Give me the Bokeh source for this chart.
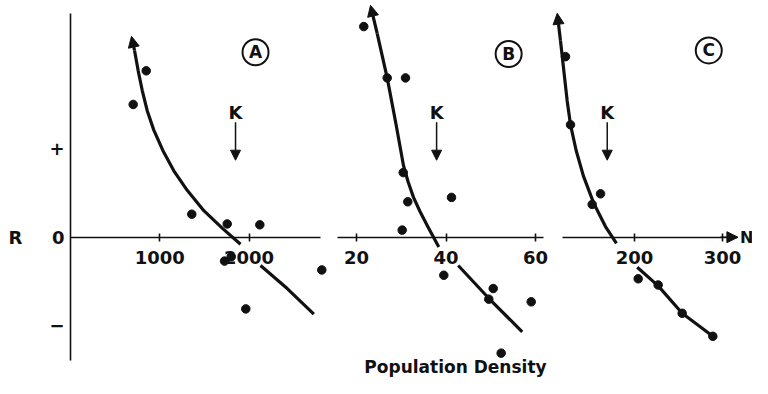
from bokeh.plotting import figure
from bokeh.models import Range1d, LinearAxis, FixedTicker, Arrow, NormalHead, Label
from bokeh.core.properties import value
from bokeh.embed import file_html
from bokeh.resources import INLINE

# ---------------- data ----------------
# Panel A
a_n = [702, 848, 1358, 1755, 2120, 1725, 1800, 1963, 2814]
a_r = [1.50, 1.88, 0.26, 0.15, 0.14, -0.27, -0.22, -0.81, -0.37]
a_fit_upper_n = [683, 717, 758, 803, 859, 933, 1034, 1157, 1307, 1493, 1702, 1904]
a_fit_upper_r = [2.27, 2.11, 1.88, 1.66, 1.43, 1.21, 0.98, 0.75, 0.53, 0.30, 0.10, -0.08]
a_fit_lower_n = [2128, 2427, 2725]
a_fit_lower_r = [-0.32, -0.58, -0.87]
a_ticks = [1000, 2000]
a_k = 1848

# Panel B
b_n = [21.63, 26.86, 30.95, 30.44, 31.46, 41.23, 30.21, 39.51, 50.55, 49.56, 59.04, 52.33]
b_r = [2.38, 1.80, 1.80, 0.73, 0.40, 0.45, 0.08, -0.43, -0.58, -0.70, -0.73, -1.31]
b_fit_upper_n = [23.13, 24.63, 26.86, 28.78, 30.50, 31.51, 32.74, 34.19, 35.98, 38.39]
b_fit_upper_r = [2.62, 2.30, 1.80, 1.29, 0.81, 0.63, 0.45, 0.29, 0.115, -0.11]
b_fit_lower_n = [42.73, 49.56, 57.03]
b_fit_lower_r = [-0.32, -0.69, -1.07]
b_ticks = [20, 40, 60]
b_k = 37.9

# Panel C
c_n = [121.6, 127.3, 161.4, 151.9, 204.2, 226.9, 254.2, 289.0]
c_r = [2.04, 1.27, 0.49, 0.37, -0.47, -0.54, -0.86, -1.12]
c_fit_upper_n = [112.2, 115.9, 119.7, 123.5, 127.3, 133.7, 142.0, 153.4, 167.0, 179.5]
c_fit_upper_r = [2.53, 2.22, 1.88, 1.54, 1.27, 0.98, 0.69, 0.39, 0.12, -0.07]
c_fit_lower_n = [203.1, 226.9, 254.2, 289.0]
c_fit_lower_r = [-0.34, -0.55, -0.86, -1.12]
c_ticks = [200, 300]
c_k = 169

r_ticks = [-1, 0, 1]
r_tick_labels = {1: "+", 0: "0", -1: "\u2212"}
panel_letters = ["A", "B", "C"]

# ---------------- layout ----------------
FIG_W, FIG_H = 752, 378
ZERO_Y, R_PX = 236.7, 88.5          # px (from top) of R=0 and px per R unit
PANELS = {
    "A": dict(origin=70.0, px=0.0893, bounds=(0, 2800), letter_pos=(2072, 2.09)),
    "B": dict(origin=266.5, px=4.475, bounds=(15.75, 61.8), letter_pos=(54.0, 2.07)),
    "C": dict(origin=458.0, px=0.88, bounds=(117.8, 317.5), letter_pos=(284.4, 2.11)),
}
K_LABEL_R, K_ARROW_TOP, K_ARROW_BOTTOM = 1.41, 1.30, 0.87
FONT = "DejaVu Sans"
INK = "#111111"


def x_range_for(origin, px):
    return Range1d(start=-origin / px, end=(FIG_W - origin) / px)


y_range = Range1d(start=-(FIG_H - ZERO_Y) / R_PX, end=ZERO_Y / R_PX)

p = figure(width=FIG_W, height=FIG_H, output_backend="svg", toolbar_location=None,
           x_range=x_range_for(PANELS["A"]["origin"], PANELS["A"]["px"]), y_range=y_range,
           x_axis_type=None, y_axis_type=None, min_border=0)
p.outline_line_color = None
p.background_fill_color = "white"
p.border_fill_color = "white"
p.extra_x_ranges = {k: x_range_for(v["origin"], v["px"]) for k, v in PANELS.items()}

# y axis (R)
yax = LinearAxis(fixed_location=0, bounds=(-1.393, 2.528), ticker=FixedTicker(ticks=r_ticks),
                 major_label_overrides=r_tick_labels, major_tick_in=0, major_tick_out=0,
                 minor_tick_in=0, minor_tick_out=0, axis_line_width=1.6, axis_line_color=INK,
                 major_label_standoff=6, major_label_text_font=FONT,
                 major_label_text_font_style="bold", major_label_text_font_size="18px",
                 major_label_text_color=INK)
p.add_layout(yax, "left")

data = {
    "A": (a_n, a_r, a_fit_upper_n, a_fit_upper_r, a_fit_lower_n, a_fit_lower_r, a_ticks, a_k),
    "B": (b_n, b_r, b_fit_upper_n, b_fit_upper_r, b_fit_lower_n, b_fit_lower_r, b_ticks, b_k),
    "C": (c_n, c_r, c_fit_upper_n, c_fit_upper_r, c_fit_lower_n, c_fit_lower_r, c_ticks, c_k),
}

for name in panel_letters:
    n, r, un, ur, ln, lr, ticks, k = data[name]
    cfg = PANELS[name]
    ax = LinearAxis(x_range_name=name, fixed_location=0, bounds=cfg["bounds"],
                    ticker=FixedTicker(ticks=ticks), major_tick_in=4, major_tick_out=4,
                    minor_tick_in=0, minor_tick_out=0, axis_line_width=1.6, axis_line_color=INK,
                    major_tick_line_width=1.6, major_tick_line_color=INK,
                    major_label_standoff=10, major_label_text_font=FONT,
                    major_label_text_font_style="bold", major_label_text_font_size="18px",
                    major_label_text_color=INK)
    p.add_layout(ax, "below")

    # fitted curve (upper part ends with an arrow, lower part separate)
    p.line(un[1:], ur[1:], x_range_name=name, line_width=3.2, line_color=INK,
           line_join="round")
    p.add_layout(Arrow(x_start=un[1], y_start=ur[1], x_end=un[0], y_end=ur[0],
                       x_range_name=name, line_width=3.2, line_color=INK,
                       end=NormalHead(size=11, fill_color=INK, line_color=INK, line_width=1)))
    p.line(ln, lr, x_range_name=name, line_width=3.2, line_color=INK, line_join="round")

    # observations
    p.scatter(n, r, x_range_name=name, size=8.5, color=INK)

    # K marker
    p.text([k], [K_LABEL_R], text=["K"], x_range_name=name, text_font=value(FONT),
           text_font_style="bold", text_font_size="18px", text_align="center",
           text_baseline="middle", text_color=INK)
    p.add_layout(Arrow(x_start=k, y_start=K_ARROW_TOP, x_end=k, y_end=K_ARROW_BOTTOM,
                       x_range_name=name, line_width=1.5, line_color=INK,
                       end=NormalHead(size=10, fill_color=INK, line_color=INK, line_width=1)))

    # circled panel letter
    lx, ly = cfg["letter_pos"]
    p.scatter([lx], [ly], x_range_name=name, marker="circle", size=26, fill_color=None,
              line_color=INK, line_width=2)
    p.text([lx], [ly], text=[name], x_range_name=name, text_font=value(FONT),
           text_font_style="bold", text_font_size="17px", text_align="center",
           text_baseline="middle", text_color=INK)

# arrow at the end of the N axis
c_end = PANELS["C"]["bounds"][1]
p.add_layout(Arrow(x_start=c_end - 20, y_start=0, x_end=c_end, y_end=0, x_range_name="C",
                   line_width=1.6, line_color=INK,
                   end=NormalHead(size=11, fill_color=INK, line_color=INK, line_width=1)))

lbl = dict(text_font=FONT, text_font_style="bold", text_color=INK, text_baseline="middle")
p.add_layout(Label(x=c_end + 2.5, y=0, x_range_name="C", text="N", text_align="left",
                   text_font_size="16px", **lbl))
p.add_layout(Label(x=8, x_units="screen", y=0, text="R", text_align="left",
                   text_font_size="18px", **lbl))
p.add_layout(Label(x=455, x_units="screen", y=FIG_H - 366, y_units="screen",
                   text="Population Density", text_align="center",
                   text_font_size="17px", **lbl))

open("out.html", "w").write(file_html(p, INLINE))
